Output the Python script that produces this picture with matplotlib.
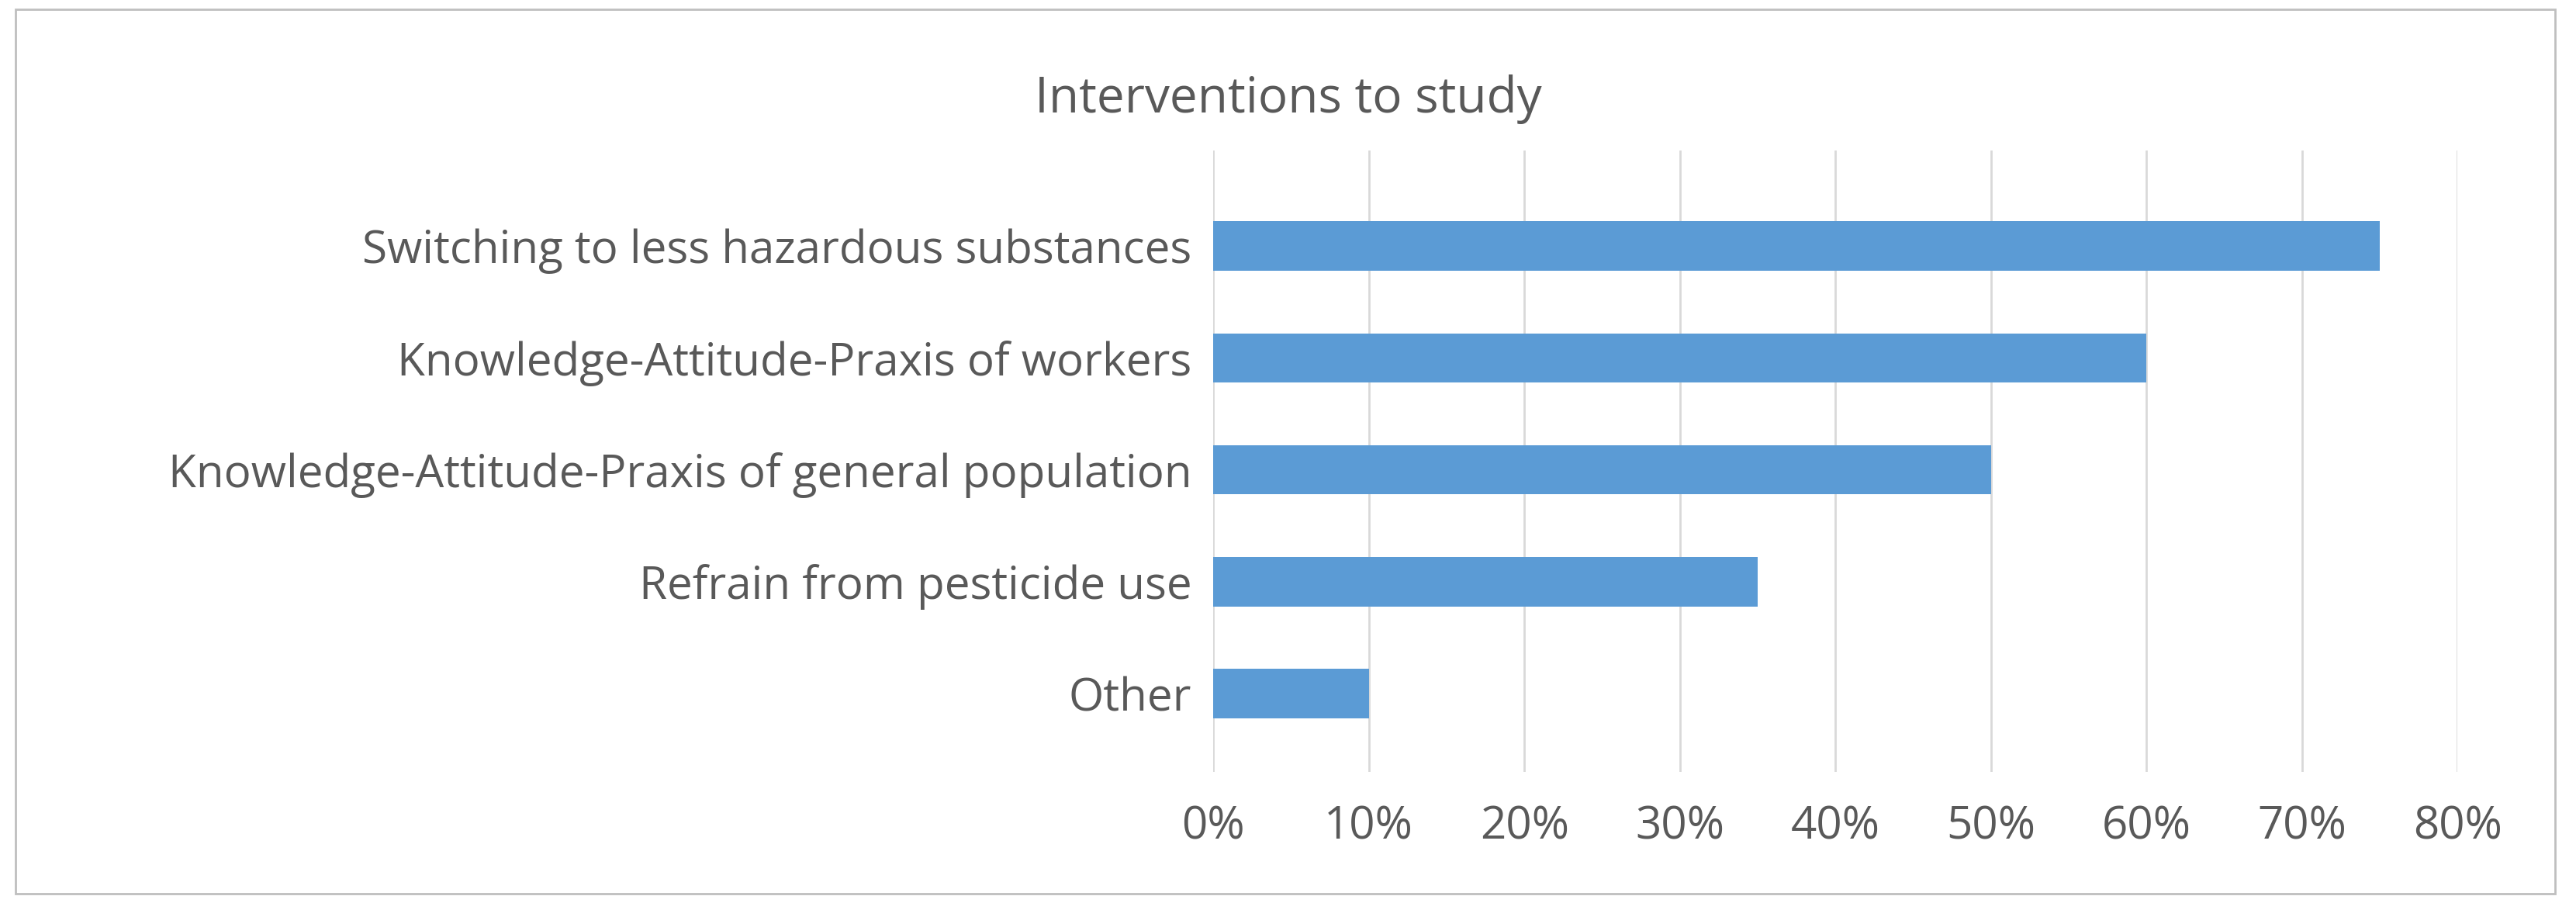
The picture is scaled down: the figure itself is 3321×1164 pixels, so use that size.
import matplotlib.pyplot as plt
from matplotlib.patches import Rectangle
from matplotlib.ticker import PercentFormatter

categories = [
    "Switching to less hazardous substances",
    "Knowledge-Attitude-Praxis of workers",
    "Knowledge-Attitude-Praxis of general population",
    "Refrain from pesticide use",
    "Other",
]
values = [75, 60, 50, 35, 10]

plt.rcParams["font.family"] = ["Open Sans", "DejaVu Sans"]
text_col = "#595959"

fig = plt.figure(figsize=(33.21, 11.64), dpi=100)
fig.patches.append(Rectangle((0.006, 0.01), 0.986, 0.98, transform=fig.transFigure,
                             fill=False, edgecolor="#BFBFBF", linewidth=2))

ax = fig.add_axes([0.471, 0.145, 0.483, 0.688])
y = list(range(len(categories)))[::-1]
ax.barh(y, values, height=0.44, color="#5B9BD5", zorder=3)
ax.set_xlim(0, 80)
ax.set_ylim(-0.7, 4.85)
ax.set_xticks(range(0, 81, 10))
ax.xaxis.set_major_formatter(PercentFormatter(decimals=0))
ax.set_yticks(y)
ax.set_yticklabels(categories)
ax.grid(axis="x", color="#D9D9D9", linewidth=2, zorder=0)
for s in ax.spines.values():
    s.set_visible(False)
ax.tick_params(length=0, labelsize=42, labelcolor=text_col, pad=20)
ax.tick_params(axis="x", pad=30)

fig.text(0.50, 0.89, "Interventions to study", ha="center", va="center",
         fontsize=46, color=text_col)

fig.savefig("out.png", dpi=100)
